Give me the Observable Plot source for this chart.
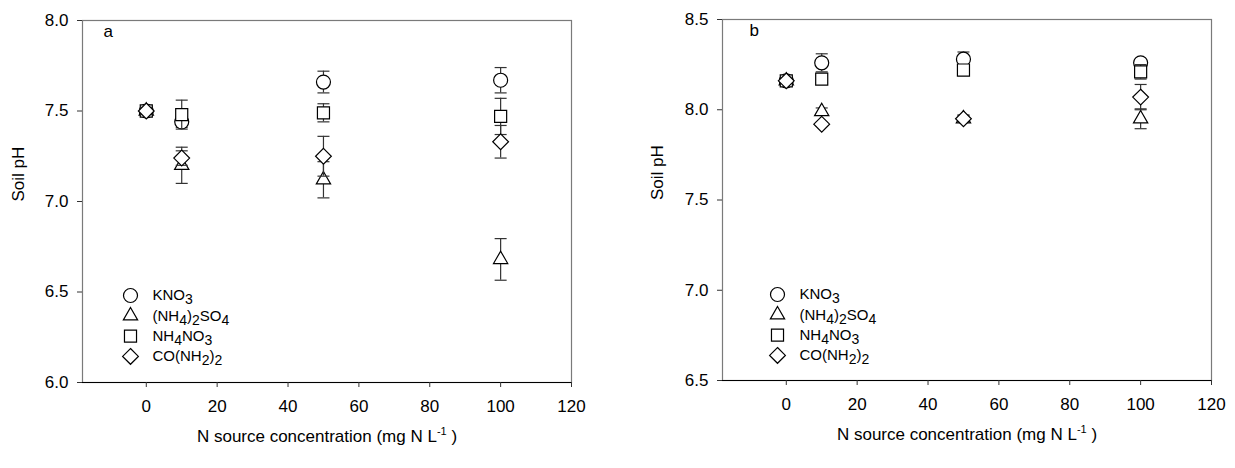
<!DOCTYPE html>
<html>
<head>
<meta charset="utf-8">
<script src="https://cdn.jsdelivr.net/npm/d3@7"></script>
<script src="https://cdn.jsdelivr.net/npm/@observablehq/plot@0.6"></script>
<style>
  html, body { margin: 0; padding: 0; background: white; }
  #wrap { display: flex; width: 1235px; height: 468px; }
  svg { font-family: "Liberation Sans", Arial, sans-serif; }
</style>
</head>
<body>
<div id="wrap"></div>
<script>
// ---------- data ----------
const conc = [0, 10, 50, 100];
const seriesNames = ["KNO3", "(NH4)2SO4", "NH4NO3", "CO(NH2)2"];
const xTicks = [0, 20, 40, 60, 80, 100, 120];
const yTicksA = [6.0, 6.5, 7.0, 7.5, 8.0];
const yTicksB = [6.5, 7.0, 7.5, 8.0, 8.5];
const xLabel = "N source concentration (mg N L-1 )";
const yLabel = "Soil pH";

// panel a means and error bars
const aKNO3 = [7.50, 7.44, 7.66, 7.67];
const aKNO3Err = [0.02, 0.03, 0.06, 0.07];
const aAS = [7.50, 7.20, 7.12, 6.68];
const aASErr = [0.02, 0.10, 0.10, 0.115];
const aAN = [7.50, 7.48, 7.49, 7.47];
const aANErr = [0.02, 0.08, 0.05, 0.10];
const aUrea = [7.50, 7.24, 7.25, 7.33];
const aUreaErr = [0.02, 0.04, 0.11, 0.09];

// panel b means and error bars
const bKNO3 = [8.16, 8.26, 8.28, 8.26];
const bKNO3Err = [0.01, 0.05, 0.04, 0.02];
const bAS = [8.16, 7.99, 7.95, 7.95];
const bASErr = [0.01, 0.02, 0.02, 0.055];
const bAN = [8.16, 8.17, 8.22, 8.21];
const bANErr = [0.01, 0.02, 0.03, 0.04];
const bUrea = [8.16, 7.92, 7.95, 8.07];
const bUreaErr = [0.01, 0.01, 0.02, 0.07];

// ---------- styles ----------
const symbols = ["circle", "triangle", "square", "diamond2"];
const symbolR = [7, 5.3, 6.8, 7.1];
const capSymbol = {draw(ctx) { ctx.moveTo(-6, 0); ctx.lineTo(6, 0); }};
const FONT = 17;
const LEGEND_FONT = 15;

function rows(means, errs) {
  return conc.map((c, j) => ({x: c, y: means[j], e: errs[j]}));
}

function panel({width, margins, yDomain, yTicks, series, letter, letterDx, legendDx, labelDx}) {
  const [mt, mr, mb, ml] = margins;
  const marks = [
    Plot.frame({stroke: "#7a7a7a", strokeWidth: 1.2}),
    Plot.ruleY([yDomain[0]], {stroke: "black", strokeWidth: 1.2}),
    Plot.axisX({ticks: xTicks, tickSize: 5, tickPadding: 12, label: null, stroke: "#333", fontSize: FONT}),
    Plot.axisY({ticks: yTicks, tickSize: 5, tickPadding: 9, label: null, tickFormat: d3.format(".1f"), stroke: "#333", fontSize: FONT}),
    Plot.text([letter], {frameAnchor: "top-left", dx: letterDx, dy: 11, textAnchor: "start", lineAnchor: "middle", fontSize: FONT, fill: "black"}),
    Plot.text([yLabel], {frameAnchor: "left", dx: labelDx, rotate: -90, lineAnchor: "middle", fontSize: FONT, fill: "black"}),
    Plot.text([xLabel], {frameAnchor: "bottom", dy: 54, lineAnchor: "middle", fontSize: FONT, fill: "black", className: "xlab"})
  ];
  series.forEach((s, i) => {
    const data = rows(s[0], s[1]);
    marks.push(
      Plot.ruleX(data, {x: "x", y1: d => d.y - d.e, y2: d => d.y + d.e, stroke: "#333", strokeWidth: 1.2}),
      Plot.dot(data, {x: "x", y: d => d.y + d.e, symbol: capSymbol, fill: "none", stroke: "#333", strokeWidth: 1.2}),
      Plot.dot(data, {x: "x", y: d => d.y - d.e, symbol: capSymbol, fill: "none", stroke: "#333", strokeWidth: 1.2}),
      Plot.dot(data, {x: "x", y: "y", symbol: symbols[i], r: symbolR[i], fill: "white", stroke: "black", strokeWidth: 1.2})
    );
    // legend entry
    const dy = 275 + 20.3 * i;
    marks.push(
      Plot.dot([seriesNames[i]], {frameAnchor: "top-left", dx: legendDx, dy, symbol: symbols[i], r: symbolR[i], fill: "white", stroke: "black", strokeWidth: 1.2}),
      Plot.text([seriesNames[i]], {frameAnchor: "top-left", dx: legendDx + 22, dy, text: d => d, textAnchor: "start", lineAnchor: "middle", fontSize: LEGEND_FONT, fill: "black", className: "subtext"})
    );
  });
  return Plot.plot({
    width, height: 468,
    marginTop: mt, marginRight: mr, marginBottom: mb, marginLeft: ml,
    x: {domain: [-18, 120]},
    y: {domain: yDomain},
    style: {fontFamily: '"Liberation Sans", Arial, sans-serif', fontSize: FONT + "px", background: "white", color: "black"},
    marks
  });
}

const NS = "http://www.w3.org/2000/svg";
// parts: [string, baseline offset in px (absolute), font size or null]
function rewrite(textEl, parts) {
  while (textEl.firstChild) textEl.removeChild(textEl.firstChild);
  let shift = 0;
  parts.forEach(([str, target, size]) => {
    const t = document.createElementNS(NS, "tspan");
    t.textContent = str;
    const dy = target - shift;
    if (dy !== 0) t.setAttribute("dy", dy);
    if (size) t.setAttribute("font-size", size);
    shift = target;
    textEl.appendChild(t);
  });
}
function postProcess(svg) {
  svg.querySelectorAll("g.subtext text").forEach(el => {
    const s = el.textContent;
    const parts = s.match(/\d+|\D+/g).map(p => /\d/.test(p) ? [p, 4, 14] : [p, 0, null]);
    rewrite(el, parts);
  });
  svg.querySelectorAll("g.xlab text").forEach(el => {
    const s = el.textContent; // "... L-1 )"
    const m = s.match(/^(.*L)(-1)( \))$/);
    if (m) rewrite(el, [[m[1], 0, null], [m[2], -7, 11], [m[3], 0, null]]);
  });
}

const wrap = document.getElementById("wrap");
const pa = panel({
  width: 617, margins: [20, 46, 86, 82], yDomain: [6, 8], yTicks: yTicksA,
  series: [[aKNO3, aKNO3Err], [aAS, aASErr], [aAN, aANErr], [aUrea, aUreaErr]],
  letter: "a", letterDx: 21, legendDx: 48, labelDx: -64
});
const pb = panel({
  width: 618, margins: [19, 24, 88, 105], yDomain: [6.5, 8.5], yTicks: yTicksB,
  series: [[bKNO3, bKNO3Err], [bAS, bASErr], [bAN, bANErr], [bUrea, bUreaErr]],
  letter: "b", letterDx: 27, legendDx: 55, labelDx: -65
});
wrap.appendChild(pa);
wrap.appendChild(pb);
postProcess(pa);
postProcess(pb);
</script>
</body>
</html>
